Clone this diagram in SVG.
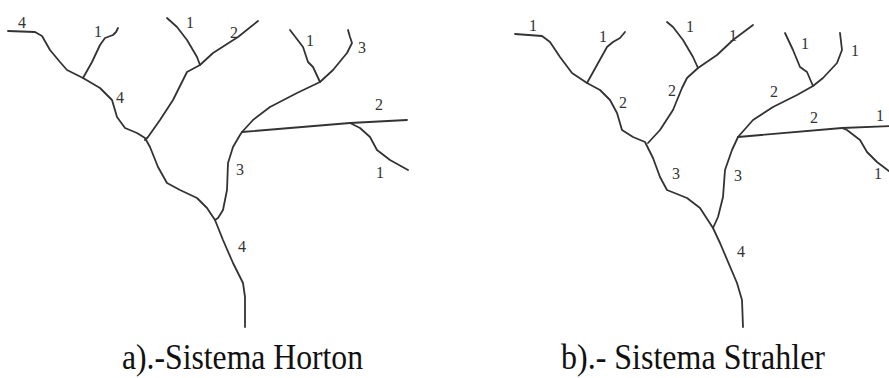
<svg xmlns="http://www.w3.org/2000/svg" width="889" height="378" viewBox="0 0 889 378">
<style>
.s{fill:none;stroke:#333;stroke-width:1.8;stroke-linejoin:round;stroke-linecap:round}
.n{font-family:'Liberation Serif','DejaVu Serif',serif;font-size:16px;fill:#333;text-anchor:middle}
.c{font-family:'Liberation Serif','DejaVu Serif',serif;font-size:35px;fill:#111}
</style>
<rect width="889" height="378" fill="#fff"/>
<g id="horton">
<g id="horton-streams">
<path class="s" d="M8,31 L35,32 L42,36 L50,50 L60,62 L67,70 L83,78 L100,88 L112,100 L117,117 L125,128 L137,133 L145,138 L150,147 L158,167 L167,183 L180,190 L197,198 L207,208 L215,220 L223,240 L233,263 L243,283 L245,297 L245,327"/>
<path class="s" d="M83,78 L92,62 L100,45 L105,38 L113,35 L116,32 L118,28"/>
<path class="s" d="M167,18 L177,27 L187,40 L197,57 L200,65"/>
<path class="s" d="M258,21 L238,37 L213,53 L200,65 L187,72 L182,82 L173,100 L160,120 L148,137 L145,140"/>
<path class="s" d="M215,220 L218,218 L223,210 L227,190 L228,163 L233,147 L240,135 L242,132 L253,120 L270,107 L297,93 L320,82 L333,70 L347,53 L352,43 L350,37 L348,30"/>
<path class="s" d="M320,82 L313,67 L308,62 L303,47 L290,30"/>
<path class="s" d="M242,132 L350,123 L407,120"/>
<path class="s" d="M350,123 L360,128 L370,137 L377,150 L390,160 L408,170"/>
</g>
<g id="horton-labels">
<text class="n" x="22" y="28">4</text>
<text class="n" x="98" y="37">1</text>
<text class="n" x="120" y="103">4</text>
<text class="n" x="190" y="28">1</text>
<text class="n" x="234" y="38">2</text>
<text class="n" x="310" y="46">1</text>
<text class="n" x="362" y="53">3</text>
<text class="n" x="379" y="110">2</text>
<text class="n" x="380" y="178">1</text>
<text class="n" x="240" y="175">3</text>
<text class="n" x="242" y="252">4</text>
</g>
<text class="c" x="122" y="369" textLength="241" lengthAdjust="spacingAndGlyphs">a).-Sistema Horton</text>
</g>
<g id="strahler">
<g id="strahler-streams">
<path class="s" d="M515,34 L542,36 L550,42 L560,57 L572,73 L587,83 L600,90 L610,100 L617,113 L622,130 L633,137 L645,142 L653,158 L660,177 L667,190 L687,198 L700,208 L713,228 L720,243 L737,283 L742,300 L743,327"/>
<path class="s" d="M587,83 L597,65 L607,47 L613,42 L620,38 L625,32"/>
<path class="s" d="M667,22 L673,27 L683,40 L693,57 L698,68"/>
<path class="s" d="M753,25 L733,40 L717,55 L698,68 L687,78 L682,88 L673,110 L660,130 L648,143"/>
<path class="s" d="M713,228 L718,217 L723,197 L725,170 L732,150 L738,137 L753,120 L773,107 L797,95 L813,86 L823,78 L837,63 L842,50 L840,33"/>
<path class="s" d="M813,86 L807,72 L800,67 L793,50 L785,33"/>
<path class="s" d="M738,137 L842,128 L890,126"/>
<path class="s" d="M842,128 L847,130 L860,140 L867,152 L877,162 L890,172"/>
</g>
<g id="strahler-labels">
<text class="n" x="533" y="31">1</text>
<text class="n" x="603" y="42">1</text>
<text class="n" x="623" y="108">2</text>
<text class="n" x="690" y="32">1</text>
<text class="n" x="672" y="96">2</text>
<text class="n" x="733" y="41">1</text>
<text class="n" x="805" y="49">1</text>
<text class="n" x="855" y="56">1</text>
<text class="n" x="774" y="97">2</text>
<text class="n" x="814" y="123">2</text>
<text class="n" x="880" y="121">1</text>
<text class="n" x="878" y="179">1</text>
<text class="n" x="676" y="179">3</text>
<text class="n" x="738" y="181">3</text>
<text class="n" x="741" y="257">4</text>
</g>
<text class="c" x="561" y="369" textLength="264" lengthAdjust="spacingAndGlyphs">b).- Sistema Strahler</text>
</g>
</svg>
